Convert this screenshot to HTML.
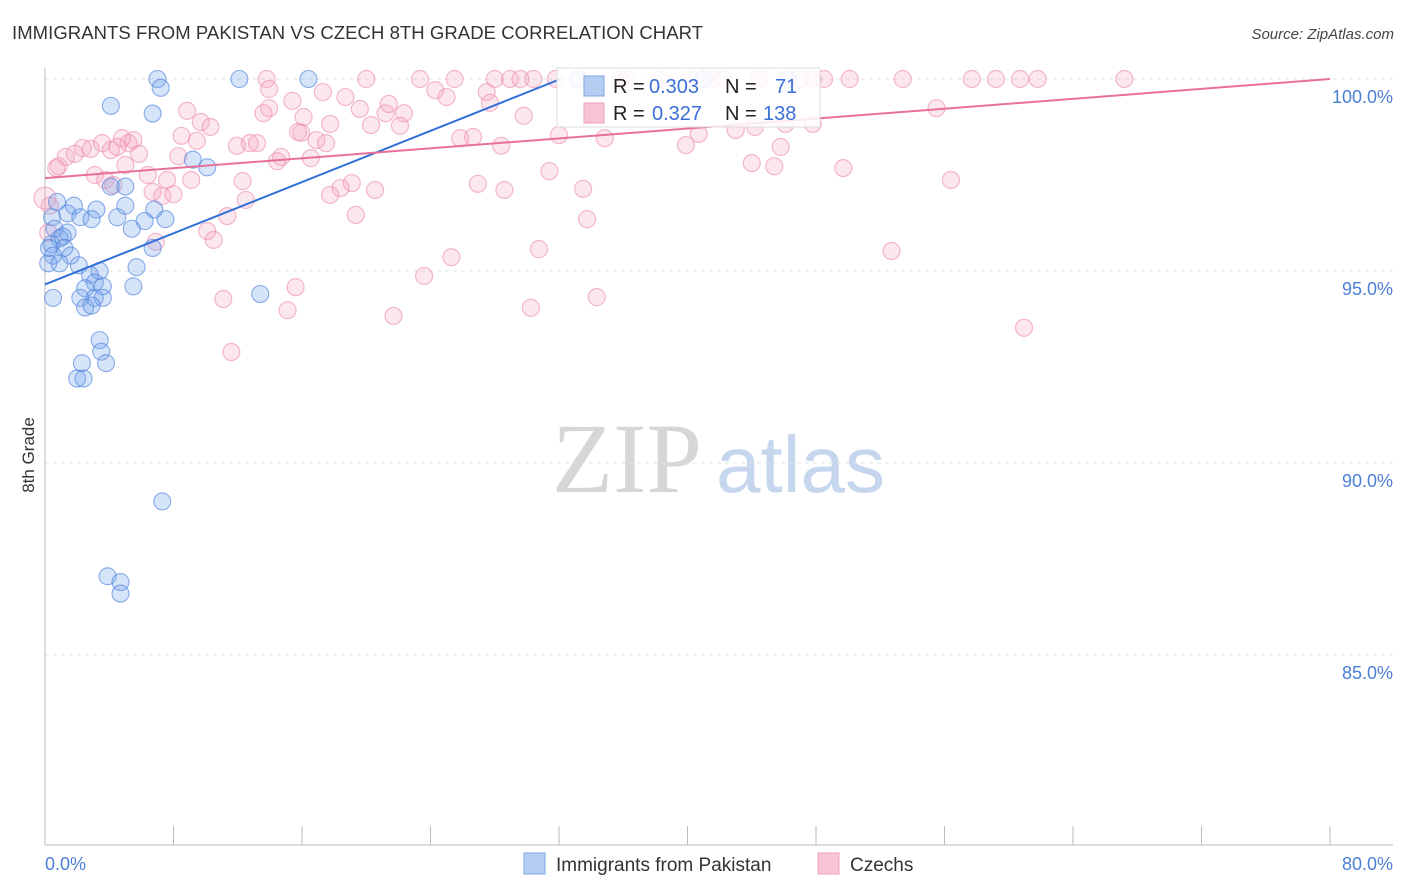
<!DOCTYPE html>
<html><head><meta charset="utf-8"><style>
body{margin:0;background:#fff;width:1406px;height:892px;overflow:hidden;font-family:"Liberation Sans",sans-serif}
svg{position:absolute;left:0;top:0}
</style></head><body>
<svg id="chart" width="1406" height="892" xmlns="http://www.w3.org/2000/svg">
<text x="12" y="39" font-size="18.5" fill="#333" textLength="691">IMMIGRANTS FROM PAKISTAN VS CZECH 8TH GRADE CORRELATION CHART</text>
<text x="1394" y="39" font-size="15" fill="#444" font-style="italic" text-anchor="end">Source: ZipAtlas.com</text>
<g>
<text x="552" y="492" font-family="Liberation Serif,serif" font-size="100" fill="#d6d6d6">ZIP</text>
<text x="716" y="492" font-size="80" fill="#c5d6ee">atlas</text>
</g>
<g id="grid"></g>
<g id="axes"></g>
<g id="pinkPts"></g>
<g id="bluePts"></g>
<g id="lines"></g>
<text transform="translate(34,455) rotate(-90)" font-size="17" fill="#333" text-anchor="middle">8th Grade</text>
<g font-size="20">
<rect x="557" y="68" width="263" height="59" fill="#fff" fill-opacity="0.85" stroke="#ddd"/>
<rect x="584" y="76" width="20" height="20" fill="#b6cdf2" stroke="#7fa6e6"/>
<text x="613" y="93" fill="#222">R =</text><text x="649" y="93" fill="#3a6fd8">0.303</text>
<text x="725" y="93" fill="#222">N =</text><text x="775" y="93" fill="#3a6fd8">71</text>
<rect x="584" y="103" width="20" height="20" fill="#f8c4d4" stroke="#eea0b8"/>
<text x="613" y="120" fill="#222">R =</text><text x="652" y="120" fill="#3a6fd8">0.327</text>
<text x="725" y="120" fill="#222">N =</text><text x="763" y="120" fill="#3a6fd8">138</text>
</g>
<g>
<rect x="524" y="853" width="21" height="21" fill="#b6cdf2" stroke="#7fa6e6"/>
<text x="556" y="871" font-size="19" fill="#333">Immigrants from Pakistan</text>
<rect x="818" y="853" width="21" height="21" fill="#f8c4d4" stroke="#eea0b8"/>
<text x="850" y="871" font-size="19" fill="#333">Czechs</text>
</g>
</svg>
<script>
const yTicks=[100,95,90,85];
const yTickLabels=["100.0%","95.0%","90.0%","85.0%"];
const xTicks=[0,8,16,24,32,40,48,56,64,72,80];
const xEndLabels=["0.0%","80.0%"];
const blueX=[7.0,7.2,12.1,16.4,4.1,6.7,9.2,10.1,4.1,5.0,0.75,1.8,3.2,5.0,6.8,0.44,1.4,2.2,2.9,4.5,6.2,7.5,5.4,0.6,1.4,0.9,1.1,0.4,1.2,6.7,0.5,1.6,0.2,0.9,2.1,5.7,3.4,2.8,3.1,2.5,3.6,5.5,0.5,2.2,3.1,3.6,13.4,2.5,2.9,3.4,3.5,2.3,3.8,2.0,2.4,7.3,3.9,4.7,4.7,33.2,41.0,46.2,0.25];
const blueY=[100,99.77,100,100,99.3,99.1,97.9,97.7,97.2,97.2,96.8,96.7,96.6,96.7,96.6,96.4,96.5,96.4,96.35,96.4,96.3,96.35,96.1,96.1,96.0,95.85,95.9,95.7,95.6,95.6,95.4,95.4,95.2,95.2,95.15,95.1,95.0,94.9,94.7,94.55,94.6,94.6,94.3,94.3,94.3,94.3,94.4,94.05,94.1,93.2,92.9,92.6,92.6,92.2,92.2,89.0,87.05,86.9,86.6,100,100,100,95.6];
const pinkX=[13.8,20.0,23.35,25.5,28.0,28.95,29.6,30.4,31.8,35.8,36.2,38.3,40.2,41.5,42.2,44.5,47.0,47.8,48.5,50.1,53.4,57.7,59.2,60.7,61.8,67.2,13.95,17.3,18.7,24.3,25.0,27.5,27.7,15.4,13.95,8.85,13.6,19.6,21.2,22.35,21.4,29.8,16.1,9.7,10.3,20.3,22.1,17.75,15.95,8.5,4.8,5.2,5.5,3.55,2.35,2.85,1.3,1.85,0.85,0.7,4.1,4.5,9.45,11.95,12.75,13.2,16.9,17.5,15.75,8.3,5.85,5.0,14.7,14.45,16.55,25.85,26.65,28.4,32.0,34.85,39.9,40.7,43.0,44.2,46.1,47.8,55.5,45.8,44.0,45.4,49.7,56.4,31.4,33.5,26.95,28.6,20.55,19.1,18.4,17.75,12.3,9.1,7.6,6.4,3.1,3.75,4.25,6.7,7.3,8.0,12.5,11.35,19.35,33.75,10.1,10.5,6.9,30.75,25.3,52.7,23.6,15.6,11.1,15.1,21.7,30.25,34.35,60.95,11.6,0.0,0.3,0.2];
const pinkY=[100,100,100,100,100,100,100,100,100,100,100,100,100,100,100,100,100,100,100,100,100,100,100,100,100,100,99.74,99.66,99.53,99.71,99.53,99.66,99.38,99.43,99.24,99.17,99.11,99.22,99.11,99.11,99.35,99.04,99.01,98.88,98.75,98.8,98.78,98.83,98.6,98.52,98.46,98.33,98.41,98.33,98.2,98.18,97.97,98.05,97.73,97.68,98.15,98.23,98.39,98.26,98.33,98.33,98.41,98.33,98.62,97.99,98.05,97.76,97.97,97.86,97.94,98.46,98.49,98.26,98.54,98.46,98.28,98.57,98.67,98.75,98.83,98.83,99.24,98.23,97.81,97.73,97.68,97.37,97.6,97.14,97.27,97.11,97.11,97.29,97.16,96.98,97.34,97.37,97.37,97.5,97.5,97.37,97.24,97.06,96.95,97.0,96.85,96.43,96.46,96.35,96.04,95.81,95.76,95.57,95.36,95.52,94.87,94.58,94.27,93.98,93.83,94.04,94.32,93.52,92.89,96.9,96.7,96.0];
const blueTrend=[[0,94.65],[32.1,100]];
const pinkTrend=[[0,97.42],[80,100]];

const NS="http://www.w3.org/2000/svg";
const X=v=>45+v*(1330-45)/80;
const Y=v=>79+(100-v)*38.4;
function mk(tag,attrs,parent){const e=document.createElementNS(NS,tag);for(const k in attrs)e.setAttribute(k,attrs[k]);parent.appendChild(e);return e;}
const grid=document.getElementById('grid'),axes=document.getElementById('axes');
yTicks.forEach((t,i)=>{
  const l=mk('line',{x1:45,x2:1393,y1:Y(t),y2:Y(t),stroke:'#e3e3e3','stroke-dasharray':'4,4'},grid);
  
  
  const tx=mk('text',{x:1393,y:Y(t)+24,'font-size':18,fill:'#4a7fd6','text-anchor':'end'},axes);
  tx.textContent=yTickLabels[i];
  
  
});
mk('line',{x1:45,x2:45,y1:68,y2:845,stroke:'#bbb'},axes);
mk('line',{x1:45,x2:1393,y1:845,y2:845,stroke:'#bbb'},axes);
xTicks.forEach(t=>{
  const l=mk('line',{x1:X(t),x2:X(t),y1:826,y2:845,stroke:'#bbb'},axes);
  
  
});
[[xEndLabels[0],45,'start'],[xEndLabels[1],1393,'end']].forEach(a=>{
  const tx=mk('text',{x:a[1],y:870,'font-size':18,fill:'#4a7fd6','text-anchor':a[2]},axes);
  tx.textContent=a[0];
  
  
});
const pg=document.getElementById('pinkPts');
pinkX.forEach((x,i)=>{
  const c=mk('circle',{cx:X(x),cy:Y(pinkY[i]),r:(x===0?11:8.5),fill:'rgba(244,160,188,0.25)',stroke:'rgba(236,140,172,0.6)','stroke-width':1.2},pg);
  
  
});
const bg=document.getElementById('bluePts');
blueX.forEach((x,i)=>{
  const c=mk('circle',{cx:X(x),cy:Y(blueY[i]),r:8.5,fill:'rgba(120,165,235,0.3)',stroke:'rgba(80,130,220,0.65)','stroke-width':1.1},bg);
  
  
});
const lg=document.getElementById('lines');
const bl=mk('line',{x1:X(blueTrend[0][0]),y1:Y(blueTrend[0][1]),x2:X(blueTrend[1][0]),y2:Y(blueTrend[1][1]),stroke:'#2f6fd8','stroke-width':2},lg);


const pl=mk('line',{x1:X(pinkTrend[0][0]),y1:Y(pinkTrend[0][1]),x2:X(pinkTrend[1][0]),y2:Y(pinkTrend[1][1]),stroke:'#e8709a','stroke-width':2},lg);


</script>
</body></html>
